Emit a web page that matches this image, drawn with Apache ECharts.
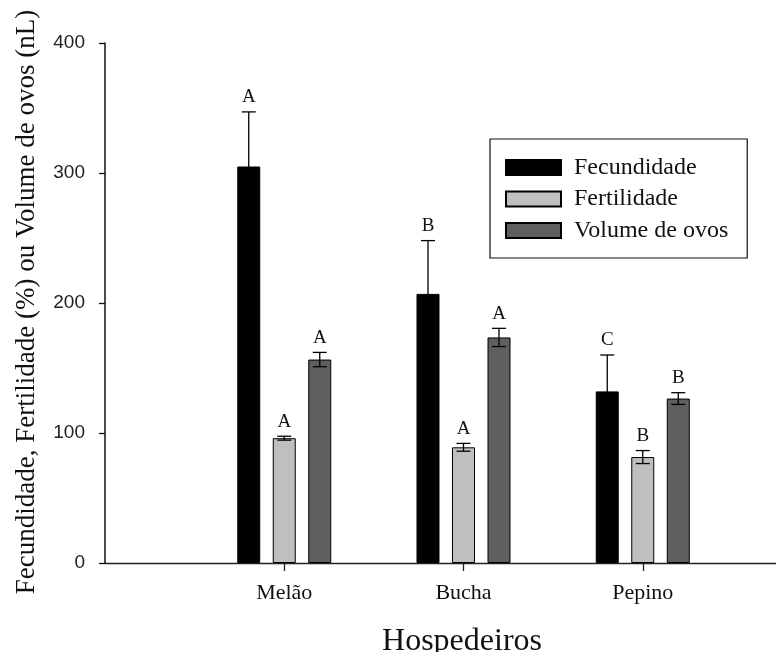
<!DOCTYPE html>
<html>
<head>
<meta charset="utf-8">
<title>Fecundidade, Fertilidade e Volume de ovos por hospedeiro</title>
<script src="https://cdn.jsdelivr.net/npm/echarts@6/dist/echarts.min.js"></script>
<style>
  html, body { margin: 0; padding: 0; background: #ffffff; }
  #chart { width: 776px; height: 652px; }
</style>
</head>
<body>
<div id="chart"></div>
<script>
// Hosts (x categories)
const categories = ['Melão', 'Bucha', 'Pepino'];

// Fecundidade (ovos/fêmea) ± erro padrão, with letters from the means test
const fecundidade = [305, 207, 132];
const fecundidadeErr = [42, 41, 28];
const fecundidadeLetters = ['A', 'B', 'C'];

// Fertilidade (%)
const fertilidade = [96, 89, 81.5];
const fertilidadeErr = [1.5, 3, 5];
const fertilidadeLetters = ['A', 'A', 'B'];

// Volume de ovos (nL)
const volume = [156.5, 173.5, 126.5];
const volumeErr = [5.5, 7, 4.5];
const volumeLetters = ['A', 'A', 'B'];

// Y axis scale
const yMin = 0, yMax = 400, yStep = 100;

const SERIF = '"Liberation Serif", "Times New Roman", serif';
const SANS = '"Liberation Sans", Arial, sans-serif';

// bar geometry inside each group
const BAR_W = 23;
const BAR_GAP = 12.5;
const OFFSETS = [-(BAR_W + BAR_GAP), 0, BAR_W + BAR_GAP];

// axis slots: an empty slot before and after the hosts
const axisData = [''].concat(categories, [' ']);

function barSeries(name, values, color) {
  return {
    name: name,
    type: 'bar',
    barWidth: BAR_W,
    barGap: (BAR_GAP / BAR_W * 100).toFixed(2) + '%',
    itemStyle: { color: color, borderColor: '#000', borderWidth: 1 },
    data: values.map((v, i) => [i + 1, v]),
    z: 2
  };
}

function errorSeries(k, means, errs, letters) {
  return {
    type: 'custom',
    silent: true,
    z: 5,
    data: means.map((m, i) => [i + 1, m, errs[i], i]),
    encode: { x: 0, y: 1 },
    renderItem: function (params, api) {
      const idx = api.value(3);
      const mean = api.value(1);
      const err = api.value(2);
      const x = api.coord([api.value(0), mean])[0] + OFFSETS[k];
      const yHi = api.coord([api.value(0), mean + err])[1];
      const yLo = api.coord([api.value(0), mean - err])[1];
      const cap = 7;
      const st = { stroke: '#000', lineWidth: 1.3 };
      return {
        type: 'group',
        children: [
          { type: 'line', shape: { x1: x, y1: yLo, x2: x, y2: yHi }, style: st },
          { type: 'line', shape: { x1: x - cap, y1: yHi, x2: x + cap, y2: yHi }, style: st },
          { type: 'line', shape: { x1: x - cap, y1: yLo, x2: x + cap, y2: yLo }, style: st },
          {
            type: 'text',
            x: x,
            y: yHi - 5,
            style: {
              text: letters[idx],
              fontFamily: SERIF,
              fontSize: 19,
              fill: '#111',
              align: 'center',
              verticalAlign: 'bottom'
            }
          }
        ]
      };
    }
  };
}

const chart = echarts.init(document.getElementById('chart'), null, { renderer: 'canvas' });

chart.setOption({
  animation: false,
  backgroundColor: '#ffffff',
  grid: {
    left: 105, top: 43, width: 717, height: 520,
    containLabel: false,
    outerBoundsMode: 'none'
  },
  legend: {
    orient: 'vertical',
    left: 490,
    top: 139,
    data: ['Fecundidade', 'Fertilidade', 'Volume de ovos'],
    icon: 'rect',
    itemWidth: 55,
    itemHeight: 15,
    itemGap: 7.5,
    padding: [16.5, 19, 15.5, 15],
    borderColor: '#111',
    borderWidth: 1.2,
    backgroundColor: '#fff',
    selectedMode: false,
    textStyle: {
      fontFamily: SERIF,
      fontSize: 24,
      color: '#111',
      padding: [0, 0, 0, 8]
    }
  },
  xAxis: {
    type: 'category',
    data: axisData,
    boundaryGap: false,
    axisLine: { lineStyle: { color: '#222', width: 1.3 } },
    axisTick: {
      show: true,
      length: 8,
      lineStyle: { color: '#222', width: 1.3 },
      interval: function (index, value) { return value.trim() !== ''; }
    },
    axisLabel: {
      interval: 0,
      margin: 19,
      fontFamily: SERIF,
      fontSize: 22,
      color: '#111'
    },
    splitLine: { show: false }
  },
  yAxis: {
    type: 'value',
    min: yMin,
    max: yMax,
    interval: yStep,
    axisLine: { show: true, lineStyle: { color: '#111', width: 1.5 } },
    axisTick: { show: true, length: 6, lineStyle: { color: '#111', width: 1.3 } },
    axisLabel: {
      margin: 20,
      fontFamily: SANS,
      fontSize: 19,
      color: '#222'
    },
    splitLine: { show: false }
  },
  graphic: [
    {
      type: 'text',
      x: 27,
      y: 302,
      rotation: Math.PI / 2,
      style: {
        text: 'Fecundidade, Fertilidade (%) ou Volume de ovos (nL)',
        fontFamily: SERIF,
        fontSize: 27,
        fill: '#111',
        align: 'center',
        verticalAlign: 'middle'
      }
    },
    {
      type: 'text',
      x: 462,
      y: 642,
      style: {
        text: 'Hospedeiros',
        fontFamily: SERIF,
        fontSize: 32,
        fill: '#111',
        align: 'center',
        verticalAlign: 'middle'
      }
    }
  ],
  series: [
    barSeries('Fecundidade', fecundidade, '#000000'),
    barSeries('Fertilidade', fertilidade, '#bfbfbf'),
    barSeries('Volume de ovos', volume, '#5f5f5f'),
    errorSeries(0, fecundidade, fecundidadeErr, fecundidadeLetters),
    errorSeries(1, fertilidade, fertilidadeErr, fertilidadeLetters),
    errorSeries(2, volume, volumeErr, volumeLetters)
  ]
});
</script>
</body>
</html>
